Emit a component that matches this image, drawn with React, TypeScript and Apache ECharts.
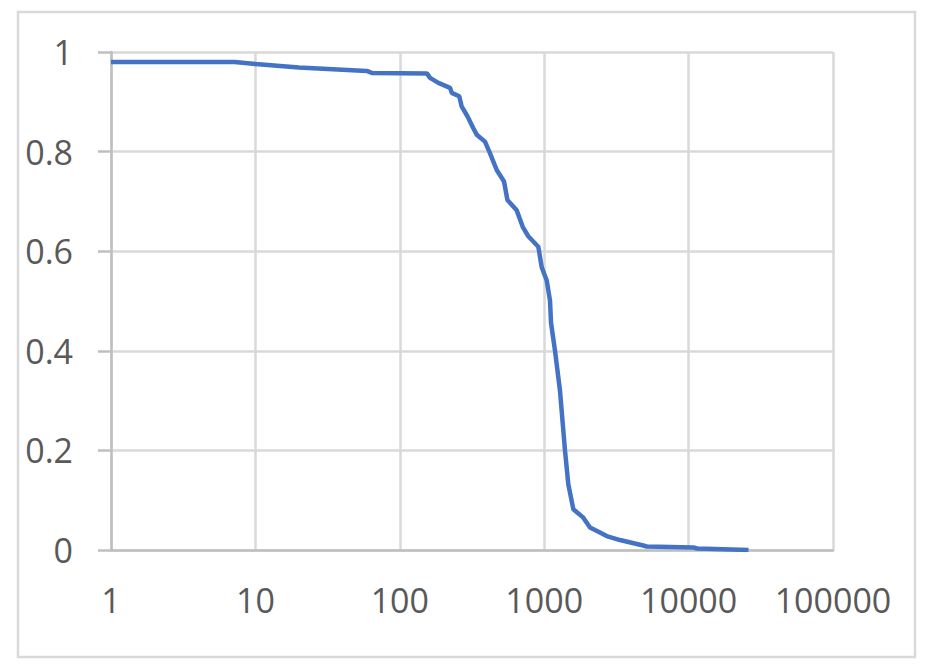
import React, { useEffect, useRef } from "react";
import * as echarts from "echarts";

const X_VALUES = [
  1, 7.2, 10, 20, 59, 64, 154, 162, 185, 223, 229, 258, 268, 294, 323, 341, 389,
  421, 469, 527, 556, 645, 710, 776, 910, 961, 1041, 1097, 1115, 1188, 1286,
  1393, 1469, 1591, 1866, 2076, 2433, 2708, 3350, 4850, 5130, 10800, 11500, 26000,
];
const Y_VALUES = [
  0.98, 0.98, 0.976, 0.969, 0.962, 0.958, 0.957, 0.948, 0.938, 0.928, 0.918,
  0.911, 0.891, 0.871, 0.847, 0.834, 0.82, 0.797, 0.763, 0.74, 0.703, 0.682,
  0.649, 0.63, 0.609, 0.568, 0.541, 0.501, 0.456, 0.4, 0.32, 0.2, 0.132, 0.082,
  0.065, 0.045, 0.035, 0.028, 0.02, 0.009, 0.007, 0.005, 0.003, 0,
];
const X_MIN = 1;
const X_MAX = 100000;
const Y_MIN = 0;
const Y_MAX = 1;
const Y_STEP = 0.2;

const FONT = "'Open Sans', 'Liberation Sans', sans-serif";

export default function App() {
  const ref = useRef<HTMLDivElement>(null);
  useEffect(() => {
    if (!ref.current) return;
    const chart = echarts.init(ref.current, undefined, { renderer: "svg" });
    const data = X_VALUES.map((x, i) => [x, Y_VALUES[i]]);
    chart.setOption({
      animation: false,
      backgroundColor: "#ffffff",
      graphic: [
        {
          type: "rect",
          shape: { x: 18, y: 12, width: 897, height: 645 },
          style: { fill: "none", stroke: "#D9D9D9", lineWidth: 2.5 },
          silent: true,
        },
      ],
      grid: { left: 111, right: 96, top: 52, bottom: 122, containLabel: false },
      xAxis: {
        type: "log",
        logBase: 10,
        min: X_MIN,
        max: X_MAX,
        axisLine: { show: true, onZero: false, lineStyle: { color: "#BFBFBF", width: 2.5 } },
        axisTick: { show: false },
        splitLine: { show: true, lineStyle: { color: "#D9D9D9", width: 2.5 } },
        axisLabel: {
          color: "#595959",
          fontFamily: FONT,
          fontSize: 34,
          margin: 33,
          formatter: (v: number) => String(Math.round(v)),
        },
      },
      yAxis: {
        type: "value",
        min: Y_MIN,
        max: Y_MAX,
        interval: Y_STEP,
        axisLine: { show: true, lineStyle: { color: "#BFBFBF", width: 2.5 } },
        axisTick: { show: true, length: 13, inside: false, lineStyle: { color: "#BFBFBF", width: 2.5 } },
        splitLine: { show: true, lineStyle: { color: "#D9D9D9", width: 2.5 } },
        axisLabel: {
          color: "#595959",
          fontFamily: FONT,
          fontSize: 34,
          margin: 38,
          formatter: (v: number) => String(+v.toFixed(1)),
        },
      },
      series: [
        {
          type: "line",
          data,
          showSymbol: false,
          symbol: "none",
          lineStyle: { color: "#4472C4", width: 4.5 },
          itemStyle: { color: "#4472C4" },
          z: 3,
        },
      ],
    });
    return () => chart.dispose();
  }, []);
  return (
    <div
      ref={ref}
      style={{ position: "fixed", left: 0, top: 0, width: 929, height: 672, background: "#fff" }}
    />
  );
}
